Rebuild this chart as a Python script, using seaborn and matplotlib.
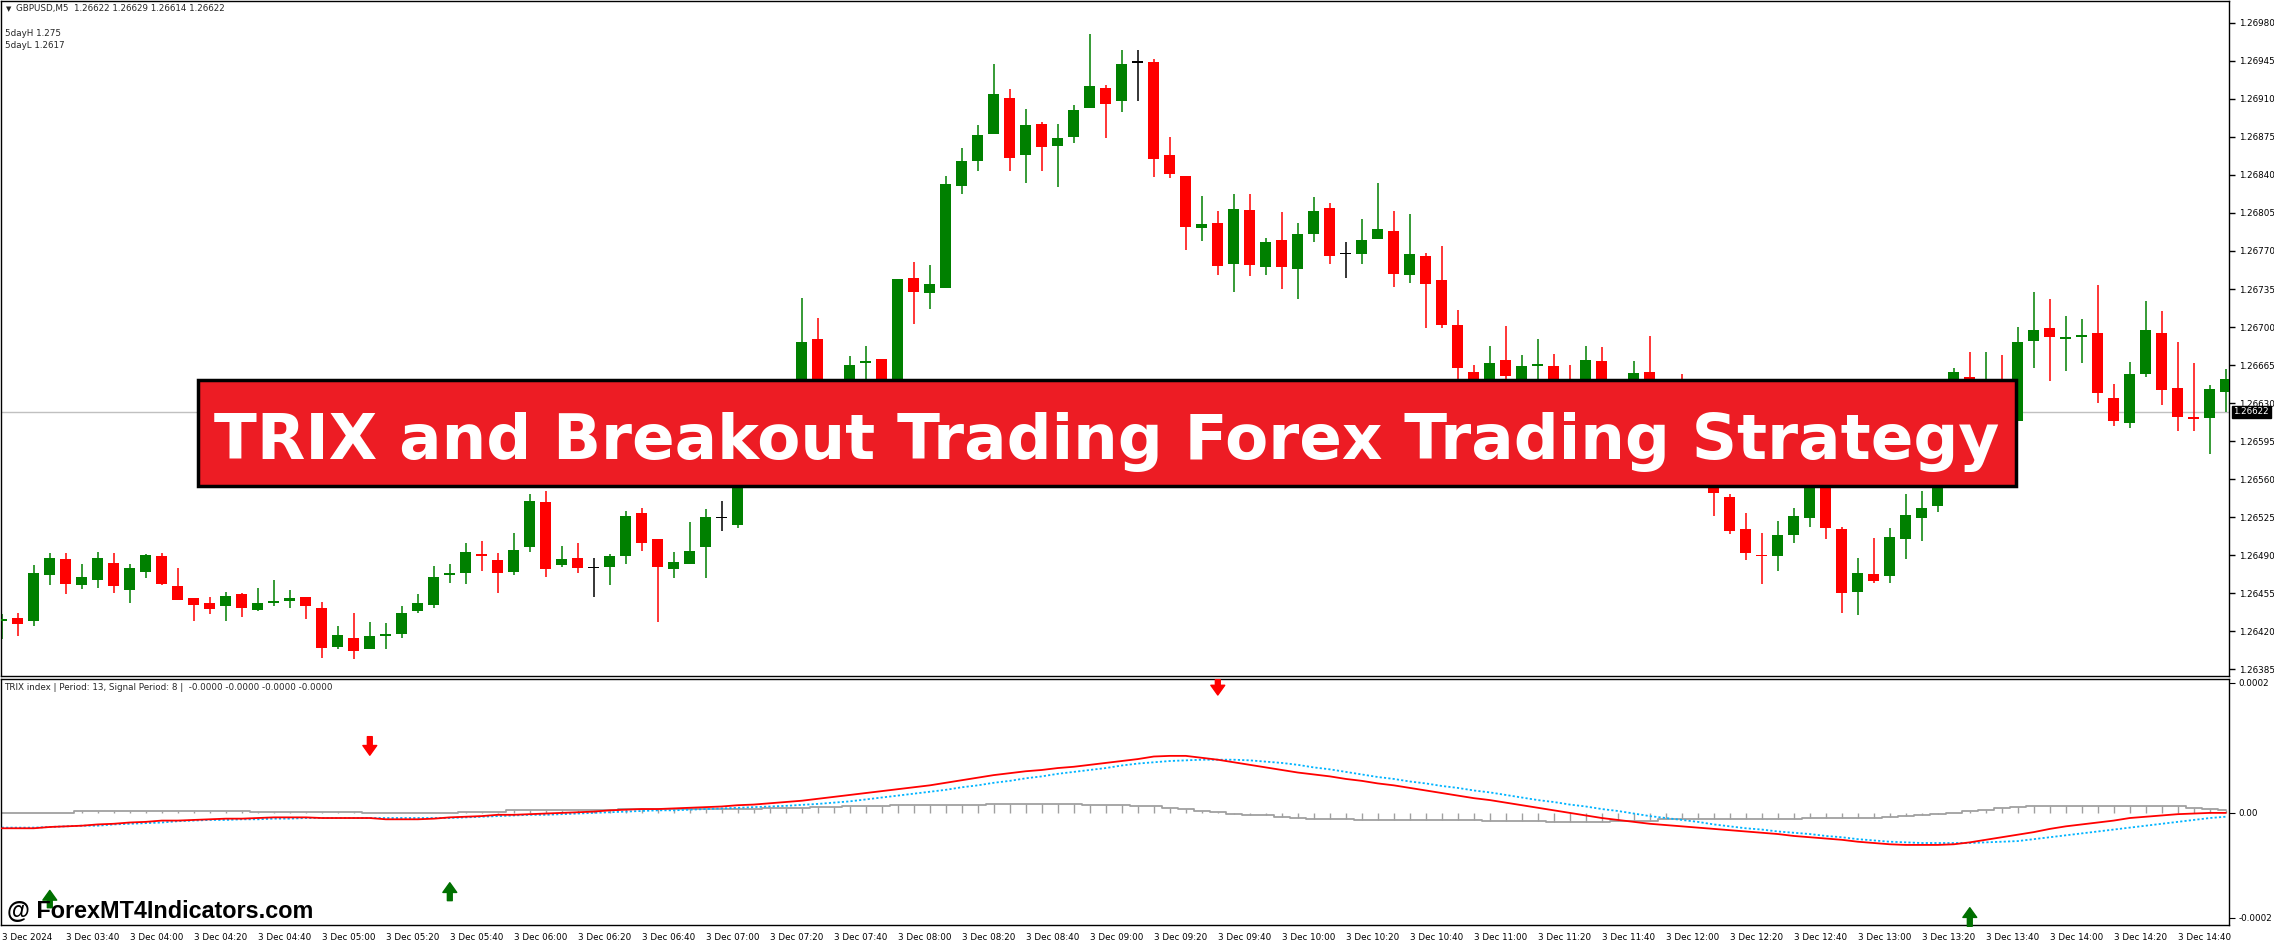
import numpy as np
import pandas as pd
import matplotlib
matplotlib.use("Agg")
import matplotlib.pyplot as plt
from matplotlib.patches import Rectangle
import seaborn as sns

# ---- price data (GBPUSD M5, 3 Dec 2024 03:20 .. 14:55) ----
opens = [1.26430, 1.26432, 1.26430, 1.26472, 1.26487, 1.26463, 1.26467, 1.26483, 1.26458, 1.26475,
         1.26489, 1.26462, 1.26451, 1.26446, 1.26443, 1.26454, 1.26440, 1.26446, 1.26448, 1.26452,
         1.26442, 1.26406, 1.26414, 1.26404, 1.26416, 1.26418, 1.26439, 1.26444, 1.26472, 1.26474,
         1.26491, 1.26486, 1.26475, 1.26498, 1.26539, 1.26481, 1.26488, 1.26478, 1.26479, 1.26489,
         1.26529, 1.26505, 1.26477, 1.26482, 1.26498, 1.26524, 1.26518, 1.26600, 1.26585, 1.26620,
         1.26605, 1.26689, 1.26640, 1.26645, 1.26667, 1.26671, 1.26625, 1.26745, 1.26731, 1.26736,
         1.26830, 1.26853, 1.26878, 1.26911, 1.26858, 1.26887, 1.26867, 1.26875, 1.26902, 1.26920,
         1.26908, 1.26943, 1.26944, 1.26858, 1.26839, 1.26791, 1.26796, 1.26758, 1.26808, 1.26755,
         1.26780, 1.26753, 1.26786, 1.26810, 1.26767, 1.26767, 1.26781, 1.26788, 1.26748, 1.26765,
         1.26743, 1.26702, 1.26659, 1.26645, 1.26670, 1.26650, 1.26664, 1.26664, 1.26650, 1.26650,
         1.26669, 1.26645, 1.26645, 1.26659, 1.26645, 1.26640, 1.26620, 1.26590, 1.26544, 1.26514,
         1.26490, 1.26489, 1.26509, 1.26524, 1.26575, 1.26514, 1.26456, 1.26473, 1.26471, 1.26505,
         1.26524, 1.26535, 1.26580, 1.26654, 1.26630, 1.26645, 1.26614, 1.26687, 1.26699, 1.26689,
         1.26691, 1.26695, 1.26635, 1.26612, 1.26657, 1.26695, 1.26644, 1.26617, 1.26616, 1.26640]
highs = [1.26436, 1.26437, 1.26481, 1.26492, 1.26492, 1.26482, 1.26493, 1.26492, 1.26482, 1.26491,
         1.26492, 1.26478, 1.26451, 1.26452, 1.26456, 1.26455, 1.26460, 1.26467, 1.26458, 1.26452,
         1.26447, 1.26425, 1.26437, 1.26429, 1.26428, 1.26443, 1.26454, 1.26480, 1.26482, 1.26501,
         1.26503, 1.26492, 1.26511, 1.26546, 1.26549, 1.26499, 1.26501, 1.26488, 1.26491, 1.26531,
         1.26534, 1.26505, 1.26493, 1.26521, 1.26533, 1.26540, 1.26610, 1.26615, 1.26630, 1.26635,
         1.26727, 1.26708, 1.26650, 1.26673, 1.26683, 1.26671, 1.26744, 1.26760, 1.26757, 1.26839,
         1.26865, 1.26886, 1.26942, 1.26919, 1.26901, 1.26889, 1.26887, 1.26904, 1.26970, 1.26923,
         1.26955, 1.26955, 1.26947, 1.26875, 1.26839, 1.26821, 1.26807, 1.26822, 1.26822, 1.26782,
         1.26806, 1.26796, 1.26820, 1.26814, 1.26778, 1.26799, 1.26833, 1.26807, 1.26804, 1.26768,
         1.26775, 1.26716, 1.26665, 1.26683, 1.26701, 1.26674, 1.26689, 1.26675, 1.26665, 1.26683,
         1.26682, 1.26650, 1.26669, 1.26692, 1.26650, 1.26657, 1.26630, 1.26600, 1.26546, 1.26529,
         1.26511, 1.26522, 1.26534, 1.26580, 1.26590, 1.26516, 1.26488, 1.26506, 1.26515, 1.26546,
         1.26549, 1.26590, 1.26662, 1.26677, 1.26677, 1.26674, 1.26700, 1.26732, 1.26726, 1.26710,
         1.26707, 1.26739, 1.26648, 1.26668, 1.26724, 1.26715, 1.26686, 1.26667, 1.26647, 1.26661]
lows = [1.26413, 1.26416, 1.26425, 1.26463, 1.26454, 1.26459, 1.26460, 1.26455, 1.26446, 1.26469,
        1.26463, 1.26449, 1.26430, 1.26436, 1.26430, 1.26433, 1.26439, 1.26443, 1.26442, 1.26431,
        1.26396, 1.26404, 1.26395, 1.26404, 1.26404, 1.26414, 1.26437, 1.26442, 1.26465, 1.26464,
        1.26476, 1.26455, 1.26472, 1.26493, 1.26470, 1.26479, 1.26474, 1.26452, 1.26463, 1.26482,
        1.26494, 1.26429, 1.26469, 1.26482, 1.26469, 1.26512, 1.26515, 1.26575, 1.26580, 1.26595,
        1.26600, 1.26630, 1.26625, 1.26635, 1.26640, 1.26615, 1.26615, 1.26703, 1.26717, 1.26736,
        1.26822, 1.26844, 1.26878, 1.26844, 1.26833, 1.26844, 1.26829, 1.26869, 1.26902, 1.26874,
        1.26898, 1.26908, 1.26838, 1.26837, 1.26771, 1.26779, 1.26748, 1.26732, 1.26747, 1.26748,
        1.26735, 1.26726, 1.26778, 1.26758, 1.26745, 1.26758, 1.26781, 1.26737, 1.26741, 1.26699,
        1.26699, 1.26650, 1.26635, 1.26635, 1.26650, 1.26640, 1.26645, 1.26640, 1.26630, 1.26645,
        1.26640, 1.26625, 1.26635, 1.26635, 1.26625, 1.26610, 1.26580, 1.26526, 1.26510, 1.26486,
        1.26464, 1.26476, 1.26501, 1.26516, 1.26505, 1.26437, 1.26435, 1.26465, 1.26465, 1.26487,
        1.26503, 1.26530, 1.26575, 1.26620, 1.26620, 1.26615, 1.26614, 1.26662, 1.26650, 1.26660,
        1.26667, 1.26630, 1.26609, 1.26607, 1.26654, 1.26628, 1.26604, 1.26604, 1.26583, 1.26622]
closes = [1.26431, 1.26427, 1.26474, 1.26488, 1.26464, 1.26470, 1.26488, 1.26462, 1.26478, 1.26490,
          1.26464, 1.26449, 1.26444, 1.26441, 1.26453, 1.26442, 1.26446, 1.26448, 1.26451, 1.26443,
          1.26405, 1.26417, 1.26402, 1.26416, 1.26418, 1.26437, 1.26446, 1.26470, 1.26474, 1.26493,
          1.26489, 1.26474, 1.26495, 1.26540, 1.26477, 1.26487, 1.26478, 1.26478, 1.26489, 1.26526,
          1.26501, 1.26479, 1.26484, 1.26494, 1.26525, 1.26524, 1.26600, 1.26585, 1.26620, 1.26605,
          1.26686, 1.26640, 1.26645, 1.26665, 1.26669, 1.26625, 1.26744, 1.26732, 1.26740, 1.26832,
          1.26853, 1.26877, 1.26914, 1.26856, 1.26886, 1.26866, 1.26874, 1.26900, 1.26922, 1.26905,
          1.26942, 1.26943, 1.26855, 1.26841, 1.26792, 1.26795, 1.26756, 1.26809, 1.26757, 1.26778,
          1.26755, 1.26786, 1.26807, 1.26765, 1.26767, 1.26780, 1.26790, 1.26749, 1.26767, 1.26740,
          1.26702, 1.26662, 1.26645, 1.26667, 1.26655, 1.26664, 1.26666, 1.26650, 1.26640, 1.26670,
          1.26650, 1.26635, 1.26658, 1.26645, 1.26640, 1.26620, 1.26590, 1.26547, 1.26512, 1.26492,
          1.26489, 1.26509, 1.26526, 1.26570, 1.26515, 1.26455, 1.26474, 1.26466, 1.26507, 1.26527,
          1.26534, 1.26580, 1.26659, 1.26630, 1.26645, 1.26630, 1.26686, 1.26697, 1.26691, 1.26691,
          1.26692, 1.26639, 1.26614, 1.26657, 1.26697, 1.26642, 1.26617, 1.26615, 1.26643, 1.26652]

# ---- TRIX indicator, values in units of 1e-5 ----
trix = [-2.4, -2.4, -2.4, -2.2, -2.1, -2.0, -1.8, -1.7, -1.5, -1.4,
        -1.2, -1.2, -1.1, -1.0, -0.9, -0.9, -0.8, -0.7, -0.7, -0.7,
        -0.8, -0.8, -0.8, -0.8, -1.0, -1.0, -1.0, -0.9, -0.7, -0.6,
        -0.5, -0.3, -0.3, -0.2, -0.1, 0.0, 0.1, 0.2, 0.4, 0.5,
        0.6, 0.6, 0.7, 0.8, 0.9, 1.0, 1.2, 1.3, 1.5, 1.7,
        1.9, 2.2, 2.5, 2.8, 3.1, 3.4, 3.7, 4.0, 4.3, 4.7,
        5.1, 5.5, 5.9, 6.2, 6.5, 6.7, 7.0, 7.2, 7.5, 7.8,
        8.1, 8.4, 8.8, 8.9, 8.9, 8.6, 8.3, 7.9, 7.5, 7.1,
        6.7, 6.3, 6.0, 5.7, 5.3, 5.0, 4.6, 4.3, 3.9, 3.5,
        3.1, 2.7, 2.3, 2.0, 1.6, 1.2, 0.8, 0.4, 0.0, -0.4,
        -0.8, -1.1, -1.4, -1.7, -1.9, -2.1, -2.3, -2.5, -2.7, -2.9,
        -3.1, -3.3, -3.6, -3.8, -4.0, -4.2, -4.5, -4.7, -4.9, -5.0,
        -5.0, -5.0, -4.9, -4.6, -4.2, -3.8, -3.4, -3.0, -2.5, -2.1,
        -1.8, -1.5, -1.2, -0.8, -0.6, -0.4, -0.2, -0.1, 0.0, 0.0]
signal = [-2.3, -2.3, -2.3, -2.2, -2.1, -2.0, -2.0, -1.8, -1.7, -1.6,
          -1.5, -1.3, -1.2, -1.1, -1.1, -1.0, -1.0, -0.9, -0.9, -0.8,
          -0.8, -0.8, -0.8, -0.8, -0.8, -0.8, -0.8, -0.8, -0.8, -0.7,
          -0.6, -0.5, -0.4, -0.3, -0.3, -0.2, -0.1, 0.0, 0.1, 0.2,
          0.3, 0.4, 0.4, 0.5, 0.6, 0.7, 0.8, 0.9, 1.0, 1.1,
          1.25, 1.4, 1.6, 1.8, 2.1, 2.4, 2.7, 3.0, 3.3, 3.6,
          4.0, 4.3, 4.7, 5.0, 5.4, 5.7, 6.1, 6.4, 6.7, 7.0,
          7.4, 7.7, 7.9, 8.1, 8.2, 8.3, 8.3, 8.3, 8.2, 8.0,
          7.8, 7.5, 7.1, 6.8, 6.4, 6.0, 5.6, 5.3, 4.9, 4.6,
          4.2, 3.9, 3.5, 3.2, 2.8, 2.4, 2.0, 1.7, 1.3, 1.0,
          0.6, 0.3, -0.1, -0.5, -0.8, -1.1, -1.4, -1.8, -2.1, -2.4,
          -2.6, -2.9, -3.1, -3.3, -3.6, -3.8, -4.1, -4.3, -4.5, -4.6,
          -4.7, -4.7, -4.7, -4.7, -4.6, -4.5, -4.4, -4.1, -3.8, -3.5,
          -3.2, -2.9, -2.6, -2.3, -2.0, -1.7, -1.4, -1.1, -0.8, -0.6]
hist = [0.0, 0.0, 0.0, 0.0, 0.0, 0.3, 0.3, 0.3, 0.3, 0.3,
        0.3, 0.3, 0.3, 0.3, 0.3, 0.3, 0.1, 0.1, 0.1, 0.1,
        0.1, 0.1, 0.1, 0.0, 0.0, 0.0, 0.0, 0.0, 0.0, 0.2,
        0.2, 0.2, 0.4, 0.4, 0.4, 0.4, 0.4, 0.4, 0.4, 0.6,
        0.6, 0.6, 0.6, 0.6, 0.6, 0.6, 0.6, 0.6, 0.8, 0.8,
        0.8, 0.9, 0.9, 1.0, 1.0, 1.1, 1.2, 1.3, 1.3, 1.3,
        1.3, 1.3, 1.4, 1.4, 1.4, 1.4, 1.4, 1.4, 1.2, 1.2,
        1.2, 1.0, 1.0, 0.8, 0.6, 0.3, 0.1, -0.1, -0.3, -0.4,
        -0.6, -0.8, -1.0, -1.0, -1.0, -1.1, -1.1, -1.1, -1.1, -1.1,
        -1.1, -1.1, -1.1, -1.3, -1.3, -1.3, -1.3, -1.4, -1.4, -1.4,
        -1.4, -1.2, -1.2, -1.2, -1.0, -1.0, -1.0, -0.9, -0.9, -0.9,
        -0.9, -0.9, -0.9, -0.8, -0.8, -0.8, -0.8, -0.8, -0.6, -0.5,
        -0.4, -0.2, 0.0, 0.3, 0.5, 0.7, 0.9, 1.1, 1.1, 1.1,
        1.1, 1.1, 1.1, 1.1, 1.0, 1.0, 1.0, 0.8, 0.6, 0.4]

# signal arrows: (bar index, tail, tip) in 1e-5 units
sell_arrows = [(23, 11.9, 9.0), (76, 20.8, 18.4)]
buy_arrows = [(3, -14.8, -12.1), (28, -13.7, -10.9), (123, -17.7, -14.8)]

price_ticks = [1.26980, 1.26945, 1.26910, 1.26875, 1.26840, 1.26805, 1.26770, 1.26735, 1.26700,
               1.26665, 1.26630, 1.26595, 1.26560, 1.26525, 1.26490, 1.26455, 1.26420, 1.26385]
time_labels = ["3 Dec 2024", "3 Dec 03:40", "3 Dec 04:00", "3 Dec 04:20", "3 Dec 04:40",
               "3 Dec 05:00", "3 Dec 05:20", "3 Dec 05:40", "3 Dec 06:00", "3 Dec 06:20",
               "3 Dec 06:40", "3 Dec 07:00", "3 Dec 07:20", "3 Dec 07:40", "3 Dec 08:00",
               "3 Dec 08:20", "3 Dec 08:40", "3 Dec 09:00", "3 Dec 09:20", "3 Dec 09:40",
               "3 Dec 10:00", "3 Dec 10:20", "3 Dec 10:40", "3 Dec 11:00", "3 Dec 11:20",
               "3 Dec 11:40", "3 Dec 12:00", "3 Dec 12:20", "3 Dec 12:40", "3 Dec 13:00",
               "3 Dec 13:20", "3 Dec 13:40", "3 Dec 14:00", "3 Dec 14:20", "3 Dec 14:40"]
bid = 1.26622

sns.set_style("white")
plt.rcParams['font.family'] = ['DejaVu Sans']

W, H = 2274, 944
fig = plt.figure(figsize=(W / 100, H / 100), dpi=100)
fig.patch.set_facecolor('white')

ax1 = fig.add_axes([1 / W, 1 - 676 / H, 2228 / W, 675 / H])
ax2 = fig.add_axes([1 / W, 1 - 925 / H, 2228 / W, 246 / H], sharex=ax1)

df = pd.DataFrame({'open': opens, 'high': highs, 'low': lows, 'close': closes})
df['bar'] = np.arange(len(df))
colors = np.where(df['close'] > df['open'], '#008000',
                  np.where(df['close'] < df['open'], '#FF0000', '#000000'))

# candles
ax1.axhline(bid, color='#C0C0C0', lw=1, zorder=0)
ax1.vlines(df['bar'], df['low'], df['high'], colors=colors, lw=1.1, zorder=2)
body_lo = df[['open', 'close']].min(axis=1)
body_h = np.maximum((df['close'] - df['open']).abs(), 0.000014)
ax1.bar(df['bar'], body_h, bottom=body_lo, width=0.69, color=colors, lw=0, zorder=3)

ax1.set_xlim(-0.05, 139.2)
ax1.set_ylim(1.26379, 1.27000)
ax1.yaxis.tick_right()
ax1.set_yticks(price_ticks)
ax1.set_yticklabels(['%.5f' % p for p in price_ticks])
ax1.tick_params(axis='y', direction='out', length=4, width=1, pad=3, labelsize=6.3, colors='black')
ax1.tick_params(axis='x', bottom=False, labelbottom=False)
for s in ax1.spines.values():
    s.set_color('black')
    s.set_linewidth(1)
ax1.text(1.002, bid, '%.5f' % bid, transform=ax1.get_yaxis_transform(), ha='left', va='center',
         fontsize=6.3, color='white', zorder=10,
         bbox=dict(facecolor='black', edgecolor='black', pad=1.2))

# TRIX panel
ind = pd.DataFrame({'bar': np.arange(len(trix)), 'trix': trix, 'signal': signal, 'hist': hist})
ax2.vlines(ind['bar'], 0, ind['hist'], colors='#A0A0A0', lw=1, zorder=1)
ax2.step(ind['bar'], ind['hist'], where='mid', color='#A0A0A0', lw=1.3, zorder=1)
sns.lineplot(data=ind, x='bar', y='signal', ax=ax2, color='#00B4FF', lw=1.3, linestyle=(0, (1.2, 1.2)),
             zorder=2)
sns.lineplot(data=ind, x='bar', y='trix', ax=ax2, color='#FF0000', lw=1.3, zorder=3)

for i, tail, tip in sell_arrows:
    ax2.annotate('', xy=(i, tip), xytext=(i, tail), zorder=5, annotation_clip=False,
                 arrowprops=dict(arrowstyle='simple,head_length=0.7,head_width=1.0,tail_width=0.35',
                                 color='#FF0000', mutation_scale=10, shrinkA=0, shrinkB=0))
for i, tail, tip in buy_arrows:
    ax2.annotate('', xy=(i, tip), xytext=(i, tail), zorder=5, annotation_clip=False,
                 arrowprops=dict(arrowstyle='simple,head_length=0.7,head_width=1.0,tail_width=0.35',
                                 color='#007000', mutation_scale=10, shrinkA=0, shrinkB=0))

ax2.set_ylim(-17.5, 20.9)
ax2.set_xlim(-0.05, 139.2)
ax2.set_xlabel('')
ax2.set_ylabel('')
ax2.yaxis.tick_right()
ax2.set_yticks([20.3, 0, -16.4])
ax2.set_yticklabels(['0.0002', '0.00', '-0.0002'])
ax2.tick_params(axis='y', direction='out', length=4, pad=3, labelsize=6.3, colors='black')
ax2.set_xticks(np.arange(0, 140, 4))
ax2.set_xticklabels(time_labels)
ax2.tick_params(axis='x', direction='out', length=4, pad=2, labelsize=6.3, colors='black')
for lbl in ax2.get_xticklabels():
    lbl.set_ha('left')
for s in ax2.spines.values():
    s.set_color('black')
    s.set_linewidth(1)

# header texts
fig.text(6 / W, 1 - 9 / H, '\u25BC', fontsize=5, va='center', ha='left')
fig.text(16 / W, 1 - 9 / H, 'GBPUSD,M5  1.26622 1.26629 1.26614 1.26622', fontsize=6.3,
         va='center', ha='left')
fig.text(5 / W, 1 - 33 / H, '5dayH 1.275', fontsize=6.3, va='center', ha='left')
fig.text(5 / W, 1 - 45 / H, '5dayL 1.2617', fontsize=6.3, va='center', ha='left')
fig.text(4 / W, 1 - 687 / H,
         'TRIX index | Period: 13, Signal Period: 8 |  -0.0000 -0.0000 -0.0000 -0.0000',
         fontsize=6.3, va='center', ha='left')

# banner
fig.patches.append(Rectangle((198 / W, 1 - 486 / H), 1818 / W, 106 / H, transform=fig.transFigure,
                             facecolor='#ED1C24', edgecolor='black', lw=2.5, zorder=20))
fig.text(1107 / W, 1 - 459 / H, 'TRIX and Breakout Trading Forex Trading Strategy',
         fontsize=45.3, fontweight='bold', color='white', family='DejaVu Sans',
         ha='center', va='baseline', zorder=21)
fig.text(7 / W, 1 - 912 / H, '@ ForexMT4Indicators.com', fontsize=16.8, fontweight='bold',
         color='black', family='Liberation Sans', ha='left', va='center', zorder=21)

fig.savefig('out.png', dpi=100)
